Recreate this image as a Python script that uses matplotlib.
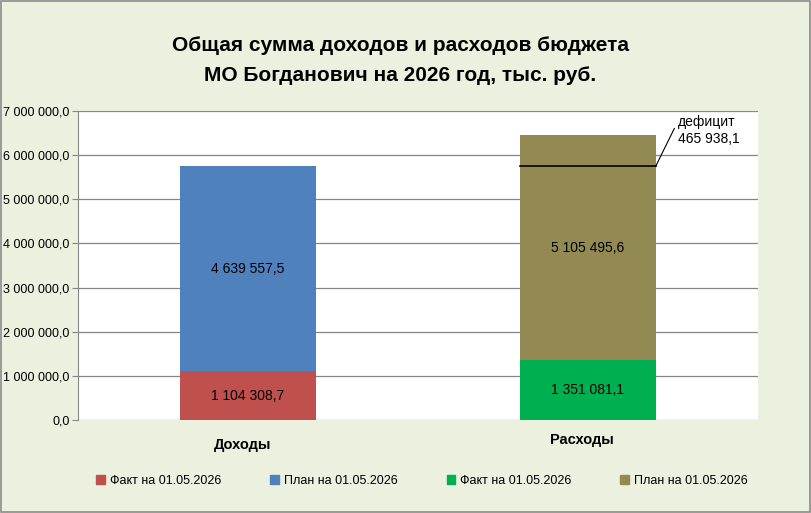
import matplotlib
matplotlib.use('Agg')
import matplotlib.pyplot as plt
from matplotlib.patches import Patch, Rectangle
from matplotlib.ticker import FuncFormatter

plt.rcParams['font.family'] = ['Liberation Sans', 'DejaVu Sans']

# --- данные ---
categories = ['Доходы', 'Расходы']
fact_income = 1104308.7
plan_income = 4639557.5
fact_expense = 1351081.1
plan_expense = 5105495.6
deficit = 465938.1
legend_labels = ['Факт на 01.05.2026', 'План на 01.05.2026',
                 'Факт на 01.05.2026', 'План на 01.05.2026']

c_red = '#C0504D'
c_blue = '#4F81BD'
c_green = '#00B050'
c_olive = '#938953'


def fmt_num(v, pos=None):
    s = f'{v:,.1f}'.replace(',', ' ').replace('.', ',')
    return s


fig = plt.figure(figsize=(8.12, 5.13), dpi=100)
fig.patch.set_facecolor('#EBF1DE')
fig.patches.append(Rectangle((0.001, 0.002), 0.997, 0.996, transform=fig.transFigure,
                             fill=False, edgecolor='#8C8C8C', linewidth=1.2))

ax = fig.add_axes([0.096, 0.181, 0.837, 0.603])
ax.set_facecolor('white')

w = 0.4
ax.bar(0, fact_income, width=w, color=c_red, zorder=3)
ax.bar(0, plan_income, width=w, bottom=fact_income, color=c_blue, zorder=3)
ax.bar(1, fact_expense, width=w, color=c_green, zorder=3)
ax.bar(1, plan_expense, width=w, bottom=fact_expense, color=c_olive, zorder=3)

# подписи значений
ax.text(0, fact_income / 2, fmt_num(fact_income), ha='center', va='center', fontsize=10, zorder=4)
ax.text(0, fact_income + plan_income / 2, fmt_num(plan_income), ha='center', va='center', fontsize=10, zorder=4)
ax.text(1, fact_expense / 2, fmt_num(fact_expense), ha='center', va='center', fontsize=10, zorder=4)
ax.text(1, fact_expense + plan_expense / 2, fmt_num(plan_expense), ha='center', va='center', fontsize=10, zorder=4)

# линия дефицита
income_total = fact_income + plan_income
ax.plot([1 - w / 2, 1 + w / 2], [income_total, income_total], color='black', lw=1.2, zorder=5)
ax.plot([1 + w / 2, 1.255], [income_total, 6.6e6], color='black', lw=0.8, zorder=5)
ax.text(1.265, 6.55e6, 'дефицит\n' + fmt_num(deficit), ha='left', va='center',
        fontsize=10, linespacing=1.3, zorder=5)

ax.set_xlim(-0.5, 1.5)
ax.set_ylim(0, 7e6)
ax.set_yticks(range(0, 7000001, 1000000))
ax.yaxis.set_major_formatter(FuncFormatter(fmt_num))
ax.tick_params(axis='y', labelsize=9, length=4, color='#868686', pad=2)
ax.set_xticks([])
ax.grid(axis='y', color='#868686', lw=0.9, zorder=1)
for s in ['top', 'right', 'bottom']:
    ax.spines[s].set_visible(False)
ax.spines['left'].set_color('#868686')

fig.text(0.299, 0.133, categories[0], ha='center', va='center', fontsize=10.5, fontweight='bold')
fig.text(0.716, 0.143, categories[1], ha='center', va='center', fontsize=10.5, fontweight='bold')

fig.text(0.493, 0.912, 'Общая сумма доходов и расходов бюджета', ha='center', va='center',
         fontsize=15, fontweight='bold')
fig.text(0.493, 0.853, 'МО Богданович на 2026 год, тыс. руб.', ha='center', va='center',
         fontsize=15, fontweight='bold')

handles = [Patch(color=c) for c in [c_red, c_blue, c_green, c_olive]]
fig.legend(handles, legend_labels, loc='center', bbox_to_anchor=(0.52, 0.063), ncol=4,
           frameon=False, fontsize=9, handlelength=0.7, handleheight=0.7,
           handletextpad=0.4, columnspacing=3.9)

fig.savefig('out.png', dpi=100, facecolor=fig.get_facecolor())
